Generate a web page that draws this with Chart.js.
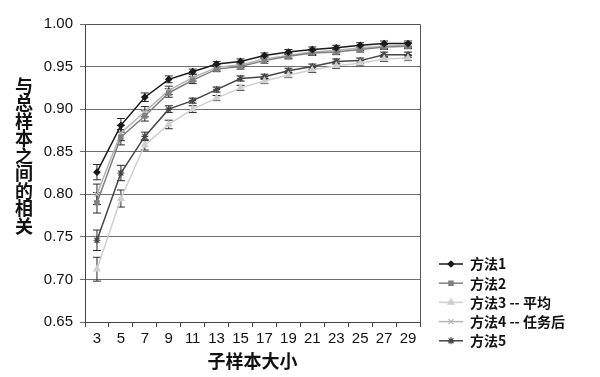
<!DOCTYPE html>
<html>
<head>
<meta charset="utf-8">
<script src="https://cdn.jsdelivr.net/npm/chart.js@4.4.1/dist/chart.umd.min.js"></script>
<style>
    html, body { margin: 0; padding: 0; background: #fff; }
    #wrap { position: relative; width: 600px; height: 377px; }
    #yTitle {
        position: absolute; left: 14px; top: 77px;
        writing-mode: vertical-rl; text-orientation: upright;
        font: bold 18px "Noto Sans CJK SC", sans-serif; line-height: 20px;
        letter-spacing: -0.5px; color: #111;
    }
</style>
</head>
<body>
<div id="wrap">
    <canvas id="chart" width="600" height="377"></canvas>
    <div id="yTitle">与总样本之间的相关</div>
</div>
<script>
// ========== DONNÉES ==========
const sampleSizes = ['3', '5', '7', '9', '11', '13', '15', '17', '19', '21', '23', '25', '27', '29'];
const yTicks = [0.65, 0.70, 0.75, 0.80, 0.85, 0.90, 0.95, 1.00];

const method1 = [0.826, 0.881, 0.914, 0.935, 0.944, 0.953, 0.956, 0.963, 0.967, 0.970, 0.972, 0.975, 0.977, 0.977];
const method2 = [0.790, 0.867, 0.892, 0.919, 0.934, 0.947, 0.950, 0.957, 0.962, 0.966, 0.967, 0.970, 0.973, 0.974];
const method3 = [0.712, 0.795, 0.858, 0.882, 0.900, 0.913, 0.925, 0.933, 0.940, 0.946, 0.951, 0.954, 0.959, 0.960];
const method4 = [0.800, 0.872, 0.897, 0.922, 0.937, 0.949, 0.952, 0.959, 0.963, 0.967, 0.969, 0.972, 0.974, 0.975];
const method5 = [0.746, 0.825, 0.868, 0.900, 0.910, 0.923, 0.936, 0.938, 0.945, 0.950, 0.956, 0.957, 0.964, 0.964];

const err1 = [0.009, 0.008, 0.005, 0.004, 0.003, 0.003, 0.003, 0.003, 0.003, 0.003, 0.003, 0.003, 0.003, 0.003];
const err2 = [0.012, 0.009, 0.006, 0.005, 0.004, 0.003, 0.003, 0.003, 0.003, 0.003, 0.003, 0.003, 0.003, 0.003];
const err3 = [0.014, 0.010, 0.006, 0.005, 0.004, 0.003, 0.003, 0.003, 0.003, 0.003, 0.003, 0.003, 0.003, 0.003];
const err4 = [0.012, 0.009, 0.006, 0.005, 0.004, 0.003, 0.003, 0.003, 0.003, 0.003, 0.003, 0.003, 0.003, 0.003];
const err5 = [0.012, 0.009, 0.005, 0.004, 0.003, 0.003, 0.003, 0.003, 0.003, 0.003, 0.003, 0.003, 0.003, 0.003];

const legendLabels = ['方法1', '方法2', '方法3 -- 平均', '方法4 -- 任务后', '方法5'];

function makeSet(label, data, errors, color, style, radius) {
    return {
        label: label, data: data, errors: errors,
        borderColor: color, backgroundColor: color,
        borderWidth: 1.5, pointStyle: style, pointRadius: radius,
        pointBorderColor: color, pointBackgroundColor: color, pointBorderWidth: 1.2,
        tension: 0
    };
}

// ========== BARRES D'ERREUR ==========
const errorBars = {
    id: 'errorBars',
    beforeDatasetsDraw(chart) {
        const ctx = chart.ctx;
        const yScale = chart.scales.y;
        ctx.save();
        ctx.strokeStyle = '#2a2a2a';
        ctx.lineWidth = 1;
        chart.data.datasets.forEach((ds, i) => {
            const meta = chart.getDatasetMeta(i);
            meta.data.forEach((pt, j) => {
                const e = ds.errors[j];
                const top = yScale.getPixelForValue(ds.data[j] + e);
                const bot = yScale.getPixelForValue(ds.data[j] - e);
                ctx.beginPath();
                ctx.moveTo(pt.x, top); ctx.lineTo(pt.x, bot);
                ctx.moveTo(pt.x - 4, top); ctx.lineTo(pt.x + 4, top);
                ctx.moveTo(pt.x - 4, bot); ctx.lineTo(pt.x + 4, bot);
                ctx.stroke();
            });
        });
        ctx.restore();
    }
};

// ========== CADRE + LÉGENDE ==========
const frameAndLegend = {
    id: 'frameAndLegend',
    afterDraw(chart) {
        const ctx = chart.ctx;
        const a = chart.chartArea;
        ctx.save();
        ctx.strokeStyle = '#555';
        ctx.lineWidth = 1;
        ctx.beginPath();
        ctx.moveTo(a.left, a.top + 0.5); ctx.lineTo(a.right + 0.5, a.top + 0.5);
        ctx.lineTo(a.right + 0.5, a.bottom);
        ctx.stroke();

        ctx.font = 'bold 14px "Noto Sans CJK SC", sans-serif';
        ctx.textBaseline = 'middle';
        chart.data.datasets.forEach((ds, i) => {
            const y = 264 + i * 19.2;
            ctx.strokeStyle = ds.borderColor;
            ctx.lineWidth = 1.5;
            ctx.beginPath();
            ctx.moveTo(439, y); ctx.lineTo(463, y);
            ctx.stroke();
            ctx.fillStyle = ds.borderColor;
            ctx.lineWidth = 1.2;
            Chart.helpers.drawPoint(ctx, { pointStyle: ds.pointStyle, radius: ds.pointRadius, rotation: 0, borderWidth: 1.2 }, 451, y);
            ctx.fillStyle = '#111';
            ctx.fillText(legendLabels[i], 470, y);
        });
        ctx.restore();
    }
};

new Chart(document.getElementById('chart'), {
    type: 'line',
    data: {
        labels: sampleSizes,
        datasets: [
            makeSet('方法1', method1, err1, '#1a1a1a', 'rectRot', 3),
            makeSet('方法2', method2, err2, '#808080', 'rect', 3),
            makeSet('方法3 -- 平均', method3, err3, '#cfcfcf', 'triangle', 3.5),
            makeSet('方法4 -- 任务后', method4, err4, '#b4b4b4', 'crossRot', 3.5),
            makeSet('方法5', method5, err5, '#454545', 'star', 3.5)
        ]
    },
    options: {
        responsive: false,
        animation: false,
        layout: { padding: { left: 35, right: 180, top: 24, bottom: 0 } },
        plugins: { legend: { display: false }, tooltip: { enabled: false } },
        scales: {
            x: {
                offset: true,
                afterFit: (s) => { s.height = 55; },
                grid: { offset: true, drawOnChartArea: false, drawTicks: true, tickLength: 5, color: '#444' },
                border: { color: '#444' },
                ticks: { color: '#111', padding: 3, font: { family: 'Liberation Sans', size: 15 } },
                title: {
                    display: true, text: '子样本大小', color: '#111',
                    font: { family: 'Noto Sans CJK SC', size: 18, weight: 'bold' },
                    padding: { top: 0, bottom: 5 }
                }
            },
            y: {
                min: 0.65, max: 1.00,
                afterFit: (s) => { s.width = 50; },
                afterBuildTicks: (s) => { s.ticks = yTicks.map(v => ({ value: v })); },
                grid: { color: '#6e6e6e', tickLength: 5, lineWidth: 1 },
                border: { color: '#444' },
                ticks: {
                    color: '#111', padding: 7,
                    font: { family: 'Liberation Sans', size: 15 },
                    callback: (v) => v.toFixed(2)
                }
            }
        }
    },
    plugins: [errorBars, frameAndLegend]
});
</script>
</body>
</html>
